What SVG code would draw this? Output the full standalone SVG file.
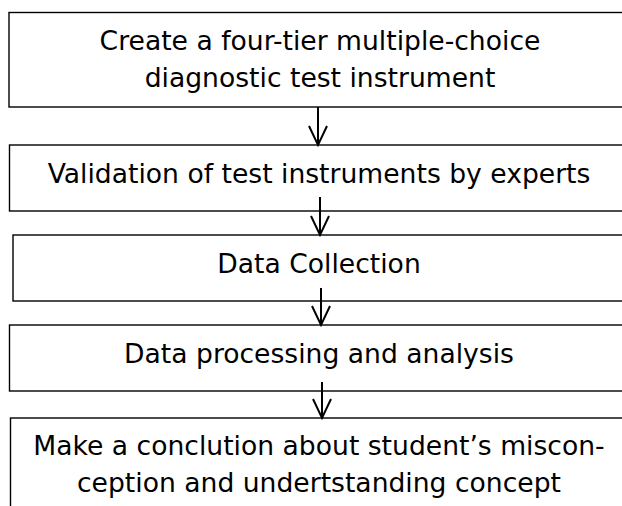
<svg xmlns="http://www.w3.org/2000/svg" width="622" height="506" viewBox="0 0 622 506">
<style>
.box{fill:#fff;stroke:#000;stroke-width:1.4}
.lbl{font-family:"DejaVu Sans",Verdana,sans-serif;font-size:26.6px;fill:#000;text-anchor:middle}
.arr{stroke:#000;stroke-width:2;fill:none}
</style>
<rect width="622" height="506" fill="#fff"/>
<g id="node1">
<rect class="box" x="9" y="12.5" width="640" height="94.5"/>
<text class="lbl" x="320" y="50">Create a four-tier multiple-choice</text>
<text class="lbl" x="320" y="87">diagnostic test instrument</text>
</g>
<g id="node2">
<rect class="box" x="9.5" y="145" width="640" height="66"/>
<text class="lbl" x="319" y="183">Validation of test instruments by experts</text>
</g>
<g id="node3">
<rect class="box" x="13" y="235" width="640" height="66"/>
<text class="lbl" x="319" y="273">Data Collection</text>
</g>
<g id="node4">
<rect class="box" x="9.5" y="325" width="640" height="66"/>
<text class="lbl" x="319" y="363">Data processing and analysis</text>
</g>
<g id="node5">
<rect class="box" x="10.5" y="418" width="640" height="100"/>
<text class="lbl" x="319" y="455">Make a conclution about student’s miscon-</text>
<text class="lbl" x="319" y="492">ception and undertstanding concept</text>
</g>
<g id="connectors">
<path class="arr" d="M318 107V145M309 126L318 145L327 126"/>
<path class="arr" d="M320 197V235M311 216L320 235L329 216"/>
<path class="arr" d="M321 288V325M312 306L321 325L330 306"/>
<path class="arr" d="M322 382V418M313 399L322 418L331 399"/>
</g>
</svg>
